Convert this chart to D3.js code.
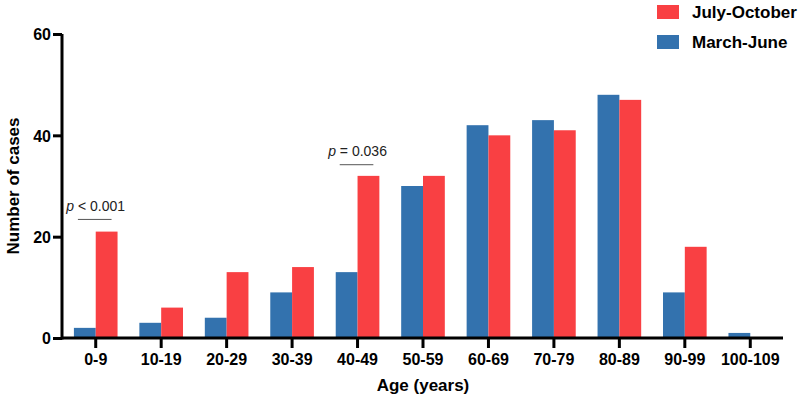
<!DOCTYPE html>
<html>
<head>
<meta charset="utf-8">
<script src="https://cdn.jsdelivr.net/npm/d3@7"></script>
<style>
  body { margin: 0; background: #fff; }
  text { font-family: "Liberation Sans", Arial, sans-serif; }
</style>
</head>
<body>
<div id="chart"></div>
<script>

var ageGroups = ["0-9", "10-19", "20-29", "30-39", "40-49", "50-59", "60-69", "70-79", "80-89", "90-99", "100-109"];
var marchJune = [2, 3, 4, 9, 13, 30, 42, 43, 48, 9, 1];
var julyOctober = [21, 6, 13, 14, 32, 32, 40, 41, 47, 18, 0];
var seriesNames = ["March-June", "July-October"];
var yTicks = [0, 20, 40, 60];
var pLabels = [
    {group: "0-9", text: "< 0.001", level: 23.5},
    {group: "40-49", text: "= 0.036", level: 34.3}
];

var width = 800, height = 400;
var blue = "#3372ae", red = "#f94043";

var svg = d3.select("#chart").append("svg")
    .attr("width", width)
    .attr("height", height);

var x = d3.scaleBand()
    .domain(ageGroups)
    .range([63, 783]);

var sub = d3.scaleBand()
    .domain(seriesNames)
    .range([0, x.bandwidth()])
    .paddingOuter(0.5)
    .paddingInner(0);

var y = d3.scaleLinear()
    .domain([0, 60])
    .range([338, 34]);

var rows = ageGroups.map(function(g, i){
    return {group: g, values: [
        {key: "March-June", value: marchJune[i]},
        {key: "July-October", value: julyOctober[i]}
    ]};
});

var color = d3.scaleOrdinal().domain(seriesNames).range([blue, red]);

// bars
svg.append("g")
    .selectAll("g")
    .data(rows)
    .enter().append("g")
    .attr("transform", function(d){ return "translate(" + x(d.group) + ",0)"; })
    .selectAll("rect")
    .data(function(d){ return d.values; })
    .enter().append("rect")
    .attr("x", function(d){ return sub(d.key); })
    .attr("width", sub.bandwidth())
    .attr("y", function(d){ return y(d.value); })
    .attr("height", function(d){ return y(0) - y(d.value); })
    .attr("fill", function(d){ return color(d.key); });

// axes
var xAxis = svg.append("g")
    .attr("transform", "translate(0," + y(0) + ")")
    .call(d3.axisBottom(x).tickSizeOuter(0).tickSize(10).tickPadding(6));

var yAxis = svg.append("g")
    .attr("transform", "translate(62,0)")
    .call(d3.axisLeft(y).tickValues(yTicks).tickSizeOuter(0).tickSize(9).tickPadding(2));

[xAxis, yAxis].forEach(function(a){
    a.selectAll("path, line").attr("stroke", "#000").attr("stroke-width", 3);
    a.selectAll("text")
        .attr("fill", "#000")
        .style("font-family", "Liberation Sans, Arial, sans-serif")
        .style("font-weight", "bold")
        .style("font-size", "16px");
});
xAxis.select(".domain").attr("d", "M62,0H783");
yAxis.select(".domain").attr("d", "M0," + (y(0) + 1.5) + "V" + y(60));
yAxis.selectAll("text").attr("dy", "0.36em");

// axis titles
svg.append("text")
    .attr("x", 423)
    .attr("y", 391)
    .attr("text-anchor", "middle")
    .style("font-weight", "bold")
    .style("font-size", "17px")
    .text("Age (years)");

svg.append("text")
    .attr("transform", "translate(19," + 186 + ") rotate(-90)")
    .attr("text-anchor", "middle")
    .style("font-weight", "bold")
    .style("font-size", "17px")
    .text("Number of cases");

// p-value brackets
var pg = svg.append("g").selectAll("g")
    .data(pLabels)
    .enter().append("g");

pg.append("line")
    .attr("x1", function(d){ return x(d.group) + sub("March-June") + 4; })
    .attr("x2", function(d){ return x(d.group) + sub("July-October") + sub.bandwidth() - 6; })
    .attr("y1", function(d){ return y(d.level) + 0.5; })
    .attr("y2", function(d){ return y(d.level) + 0.5; })
    .attr("stroke", "#555")
    .attr("stroke-width", 1);

var pt = pg.append("text")
    .attr("x", function(d){ return x(d.group) + x.bandwidth() / 2; })
    .attr("y", function(d){ return y(d.level) - 8; })
    .attr("text-anchor", "middle")
    .style("font-size", "14px")
    .attr("fill", "#222");
pt.append("tspan").style("font-style", "italic").text("p");
pt.append("tspan").text(function(d){ return " " + d.text; });

// legend
var legend = svg.append("g").selectAll("g")
    .data(["July-October", "March-June"])
    .enter().append("g")
    .attr("transform", function(d, i){ return "translate(657," + (5 + i * 30) + ")"; });

legend.append("rect")
    .attr("width", 22)
    .attr("height", 14)
    .attr("fill", function(d){ return color(d); });

legend.append("text")
    .attr("x", 35)
    .attr("y", 13)
    .style("font-weight", "bold")
    .style("font-size", "17px")
    .text(function(d){ return d; });

</script>
</body>
</html>
